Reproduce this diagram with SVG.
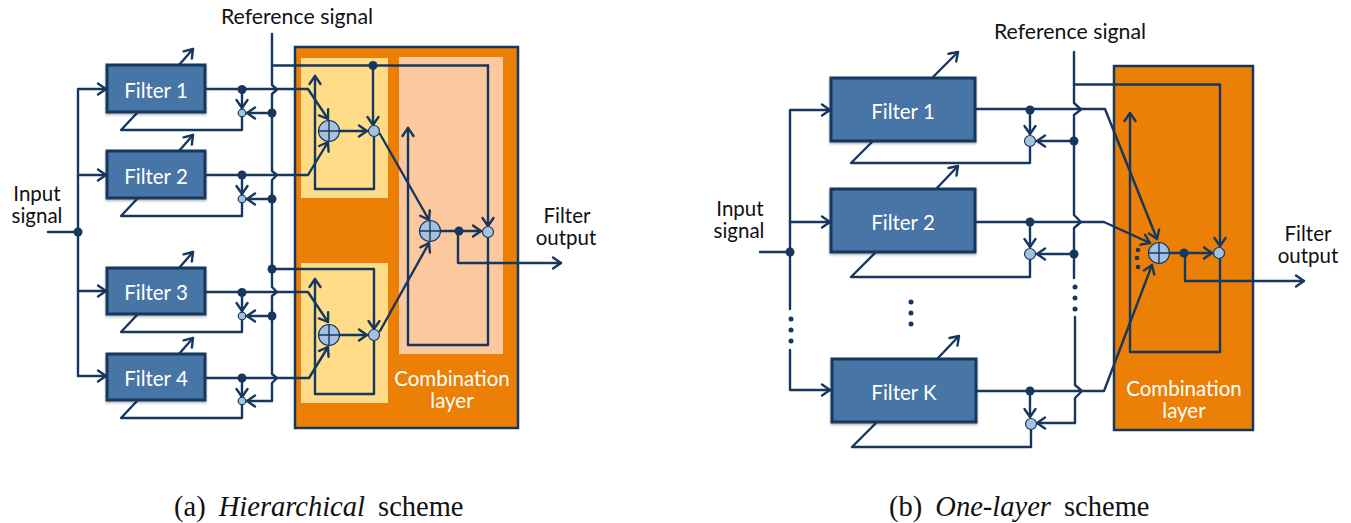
<svg xmlns="http://www.w3.org/2000/svg" width="1351" height="523" viewBox="0 0 1351 523">
<style>
.w{fill:none;stroke:#17375E;stroke-width:2.4;stroke-linejoin:round;stroke-linecap:round}
.a{marker-end:url(#arr)}
.flt{fill:#4774A5;stroke:#17375E;stroke-width:3;filter:url(#sh)}
.panel{fill:#EC7F05;stroke:#17375E;stroke-width:2.5}
.dot{fill:#17375E}
.sm{fill:#A6C0E0;stroke:#17375E;stroke-width:1.2}
.sx{fill:none;stroke:#17375E;stroke-width:1.4}
text{font-family:Lato,"Open Sans","Liberation Sans",sans-serif}
.tw{fill:#fff;font-size:20.5px;text-anchor:middle}
.tk{fill:#111;font-size:21.3px;text-anchor:middle}
.tl{fill:#111;font-size:20.5px;text-anchor:middle}
.cap{font-family:"Liberation Serif",serif;font-size:28.5px;word-spacing:6px;fill:#111}
</style>
<defs>
<marker id="arr" markerUnits="userSpaceOnUse" markerWidth="20" markerHeight="20" viewBox="-12 -10 14 20" refX="0" refY="0" orient="auto" overflow="visible">
<path d="M-8,-5.5 L0,0 L-8,5.5" fill="none" stroke="#17375E" stroke-width="2.4" stroke-linecap="round" stroke-linejoin="round"/>
</marker>
<filter id="sh" x="-5%" y="-5%" width="110%" height="115%"><feDropShadow dx="0" dy="1.5" stdDeviation="1.2" flood-color="#000" flood-opacity="0.3"/></filter>
</defs>

<g id="panels">
<rect id="layer-a" class="panel" x="295" y="47" width="223" height="381"/>
<rect x="301" y="58" width="87" height="140" fill="#FFDD88"/>
<rect x="301" y="263" width="87" height="140" fill="#FFDD88"/>
<rect x="399" y="57" width="104" height="297" fill="#FBC8A0"/>
<rect id="layer-b" class="panel" x="1114" y="66" width="139" height="364"/>
</g>

<g id="connectors">
<path class="w" d="M48 232H78"/>
<path class="w a" d="M78 232V89H106"/>
<path class="w a" d="M78 175H106"/>
<path class="w a" d="M78 232V376H106"/>
<path class="w a" d="M78 291H106"/>
<path class="w a" d="M179 65L193 49"/>
<path class="w a" d="M179 151L193 135"/>
<path class="w a" d="M179 268L193 252"/>
<path class="w a" d="M179 354L193 338"/>
<path class="w" d="M137 113L121 130H242V117"/>
<path class="w" d="M137 199L121 216H242V203"/>
<path class="w" d="M137 315L121 332H242V319"/>
<path class="w" d="M137 401L121 418H242V405"/>
<path class="w" d="M272 34V85L277 89.5L272 94V171L277 175L272 180V287L277 292L272 296V374L277 378L272 383V401"/>
<path class="w a" d="M272 401H247"/>
<path class="w a" d="M272 113H247"/>
<path class="w a" d="M272 199H247"/>
<path class="w a" d="M272 316H247"/>
<path class="w a" d="M205 89H308L328 119"/>
<path class="w a" d="M205 175H308L328 142"/>
<path class="w a" d="M205 292H308L328 322"/>
<path class="w a" d="M205 378H309L328 347"/>
<path class="w a" d="M242 89V108"/>
<path class="w a" d="M242 175V194"/>
<path class="w a" d="M242 292V311"/>
<path class="w a" d="M242 378V397"/>
<path class="w" d="M272 65.500H488"/>
<path class="w a" d="M373 65.500V125"/>
<path class="w a" d="M488 65.500V226"/>
<path class="w a" d="M272 269H374V329"/>
<path class="w a" d="M340 131H367"/>
<path class="w a" d="M340 335H367"/>
<path class="w a" d="M374 136V189H315V76"/>
<path class="w a" d="M374 340V394H315V279"/>
<path class="w a" d="M380 134L429 220"/>
<path class="w a" d="M380 331L429 243"/>
<path class="w a" d="M441 231H481"/>
<path class="w a" d="M458 231V263H561"/>
<path class="w a" d="M488 237V345H408V128"/>

<path class="w" d="M760 252H790"/>
<path class="w a" d="M790 252V110H830"/>
<path class="w a" d="M790 222H830"/>
<path class="w" d="M790 252V309"/>
<path class="w a" d="M790 350V390H830"/>
<path class="w a" d="M933 77L958 52"/>
<path class="w a" d="M937 188L958 166"/>
<path class="w a" d="M938 358L959 336"/>
<path class="w" d="M872 142L851 163H1030V147"/>
<path class="w" d="M875 253L851 277H1030V260"/>
<path class="w" d="M876 423L852 447H1031V430"/>
<path class="w" d="M1074 52V103L1081 109.500L1074 115V215L1081 222L1074 228V278"/>
<path class="w" d="M1075 317V385L1082 391L1075 398V423"/>
<path class="w a" d="M1075 423H1037"/>
<path class="w a" d="M1074 141H1037"/>
<path class="w a" d="M1074 254H1037"/>
<path class="w a" d="M975 109H1105L1157 239"/>
<path class="w a" d="M975 222H1104L1150 243"/>
<path class="w a" d="M976 391H1104L1152 265"/>
<path class="w a" d="M1030 110V134"/>
<path class="w a" d="M1030 222V247"/>
<path class="w a" d="M1030 391V417"/>
<path class="w a" d="M1074 84.500H1220V246"/>
<path class="w a" d="M1170 253H1212"/>
<path class="w a" d="M1185 253V281H1304"/>
<path class="w a" d="M1220 259V352H1130V113"/>
</g>

<g id="dots">
<circle class="dot" cx="78" cy="232" r="4.500"/>
<circle class="dot" cx="242" cy="89.500" r="4.500"/>
<circle class="dot" cx="242" cy="175" r="4.500"/>
<circle class="dot" cx="242" cy="292.500" r="4.500"/>
<circle class="dot" cx="242" cy="378" r="4.500"/>
<circle class="dot" cx="272" cy="113" r="4.500"/>
<circle class="dot" cx="272" cy="199" r="4.500"/>
<circle class="dot" cx="272" cy="269" r="4.500"/>
<circle class="dot" cx="272" cy="316" r="4.500"/>
<circle class="dot" cx="373" cy="65.500" r="4.500"/>
<circle class="dot" cx="459" cy="231" r="4.500"/>
<circle class="dot" cx="790" cy="252" r="4.500"/>
<circle class="dot" cx="1030" cy="110" r="4.500"/>
<circle class="dot" cx="1030" cy="222" r="4.500"/>
<circle class="dot" cx="1030" cy="391" r="4.500"/>
<circle class="dot" cx="1074" cy="141" r="4.500"/>
<circle class="dot" cx="1074" cy="254" r="4.500"/>
<circle class="dot" cx="1184" cy="253" r="4.500"/>
<circle class="dot" cx="791" cy="319" r="2.500"/><circle class="dot" cx="791" cy="330" r="2.500"/><circle class="dot" cx="791" cy="341" r="2.500"/>
<circle class="dot" cx="911" cy="302" r="2.500"/><circle class="dot" cx="911" cy="313" r="2.500"/><circle class="dot" cx="911" cy="324" r="2.500"/>
<circle class="dot" cx="1075" cy="287" r="2.500"/><circle class="dot" cx="1075" cy="298" r="2.500"/><circle class="dot" cx="1075" cy="309" r="2.500"/>
<circle class="dot" cx="1138" cy="250" r="2.300"/><circle class="dot" cx="1137" cy="258" r="2.300"/><circle class="dot" cx="1138" cy="267" r="2.300"/>
</g>

<g id="multipliers">
<circle class="sm" cx="242" cy="113" r="3.800"/>
<circle class="sm" cx="242" cy="199" r="3.800"/>
<circle class="sm" cx="242" cy="316" r="3.800"/>
<circle class="sm" cx="242" cy="401" r="3.800"/>
<circle class="sm" cx="374" cy="131" r="5.500"/>
<circle class="sm" cx="374" cy="335" r="5.500"/>
<circle class="sm" cx="488" cy="232" r="5.500"/>
<circle class="sm" cx="1030" cy="141" r="5.500"/>
<circle class="sm" cx="1030" cy="254" r="5.500"/>
<circle class="sm" cx="1031" cy="424" r="5.500"/>
<circle class="sm" cx="1219" cy="253" r="5.500"/>
</g>

<g id="sum-a1"><circle class="sm" cx="329" cy="131" r="10.500"/><path class="sx" d="M318.500 131H339.500M329 120.500V141.500"/></g>
<g id="sum-a2"><circle class="sm" cx="329" cy="335" r="10.500"/><path class="sx" d="M318.500 335H339.500M329 324.500V345.500"/></g>
<g id="sum-a3"><circle class="sm" cx="430" cy="231" r="10.500"/><path class="sx" d="M419.500 231H440.500M430 220.500V241.500"/></g>
<g id="sum-b"><circle class="sm" cx="1159" cy="253" r="10.500"/><path class="sx" d="M1148.500 253H1169.500M1159 242.500V263.500"/></g>

<g id="filter-a1"><rect class="flt" x="107" y="65" width="98" height="47"/><text class="tw" x="156" y="98">Filter 1</text></g>
<g id="filter-a2"><rect class="flt" x="107" y="151" width="98" height="47"/><text class="tw" x="156" y="184">Filter 2</text></g>
<g id="filter-a3"><rect class="flt" x="107" y="268" width="98" height="46"/><text class="tw" x="156" y="300">Filter 3</text></g>
<g id="filter-a4"><rect class="flt" x="107" y="354" width="98" height="46"/><text class="tw" x="156" y="386">Filter 4</text></g>
<g id="filter-b1"><rect class="flt" x="831" y="78" width="144" height="63"/><text class="tw" x="903" y="119">Filter 1</text></g>
<g id="filter-b2"><rect class="flt" x="831" y="189" width="144" height="63"/><text class="tw" x="903" y="230">Filter 2</text></g>
<g id="filter-bk"><rect class="flt" x="832" y="359" width="144" height="63"/><text class="tw" x="904" y="400">Filter K</text></g>

<g id="labels">
<text class="tk" x="297" y="24">Reference signal</text>
<text class="tl" x="37" y="201">Input</text>
<text class="tl" x="37" y="223">signal</text>
<text class="tl" x="567" y="223">Filter</text>
<text class="tl" x="566" y="245">output</text>
<text class="tw" x="452" y="386">Combination</text>
<text class="tw" x="452" y="408">layer</text>
<text class="tk" x="1070" y="39">Reference signal</text>
<text class="tl" x="740" y="216">Input</text>
<text class="tl" x="739" y="238">signal</text>
<text class="tl" x="1308" y="241">Filter</text>
<text class="tl" x="1308" y="263">output</text>
<text class="tw" x="1184" y="396">Combination</text>
<text class="tw" x="1184" y="418">layer</text>
<text class="cap" x="174" y="516">(a) <tspan font-style="italic">Hierarchical</tspan> scheme</text>
<text class="cap" x="889" y="516">(b) <tspan font-style="italic">One-layer</tspan> scheme</text>
</g>
</svg>
